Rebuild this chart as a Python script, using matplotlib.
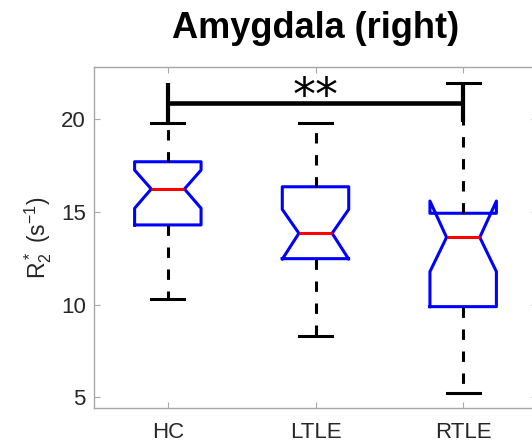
import matplotlib
matplotlib.use("Agg")
import matplotlib.pyplot as plt

plt.rcParams['font.family'] = ['Liberation Sans', 'DejaVu Sans']
plt.rcParams['mathtext.default'] = 'regular'

categories = ['HC', 'LTLE', 'RTLE']
whislo = [10.29, 8.32, 5.21]
q1 = [14.30, 12.48, 9.89]
med = [16.24, 13.85, 13.63]
q3 = [17.71, 16.36, 14.93]
whishi = [19.78, 19.82, 21.94]
cilo = [15.20, 12.45, 11.78]
cihi = [17.26, 15.14, 15.59]
yticks = [5, 10, 15, 20]
sig_pair = (1, 3)
sig_y = 20.9
sig_low = 19.85
sig_high = 21.94
sig_text = '**'

fig = plt.figure(figsize=(5.32, 4.46), dpi=100)
ax = fig.add_axes([94/532, 38/446, 443/532, 341.3/446])

stats = []
for i, c in enumerate(categories):
    stats.append(dict(label=c, whislo=whislo[i], q1=q1[i], med=med[i], q3=q3[i],
                      whishi=whishi[i], cilo=cilo[i], cihi=cihi[i], fliers=[]))

ax.bxp(stats, positions=[1, 2, 3], widths=0.45, shownotches=True, showfliers=False,
       boxprops=dict(color='#0000ff', linewidth=2.2),
       medianprops=dict(color='#ff0000', linewidth=2.2),
       whiskerprops=dict(color='black', linewidth=2.2, linestyle=(0, (3.4, 3.8))),
       capprops=dict(color='black', linewidth=2.2))

# significance bar
x1, x2 = sig_pair
ax.plot([x1, x2], [sig_y, sig_y], color='black', lw=3.3, solid_capstyle='butt', zorder=5)
ax.plot([x1, x1], [sig_low, sig_high], color='black', lw=3.0, solid_capstyle='butt', zorder=5)
ax.plot([x2, x2], [sig_low, sig_high], color='black', lw=3.0, solid_capstyle='butt', zorder=5)
ax.text((x1 + x2) / 2, 20.52, sig_text, ha='center', va='baseline', fontsize=33,
        family='DejaVu Sans', color='black', zorder=6)

ax.set_xlim(0.5, 3.5)
ax.set_ylim(4.42, 22.84)
ax.set_yticks(yticks)
ax.set_xticks([1, 2, 3])
ax.set_xticklabels(categories)

for s in ax.spines.values():
    s.set_color('#a8a8a8')
    s.set_linewidth(1.0)
ax.tick_params(axis='both', direction='in', length=4, width=0.8, color='#a8a8a8',
               labelcolor='#262626', labelsize=16, top=True, right=True)
ax.tick_params(axis='x', pad=10)
ax.tick_params(axis='y', pad=6)

ax.set_ylabel(r'R$^*_2$ (s$^{-1}$)', fontsize=16.5, color='#262626', labelpad=5)
ax.set_title('Amygdala (right)', fontsize=26, fontweight='bold', pad=20.4, color='black')

fig.savefig('out.png', dpi=100)
